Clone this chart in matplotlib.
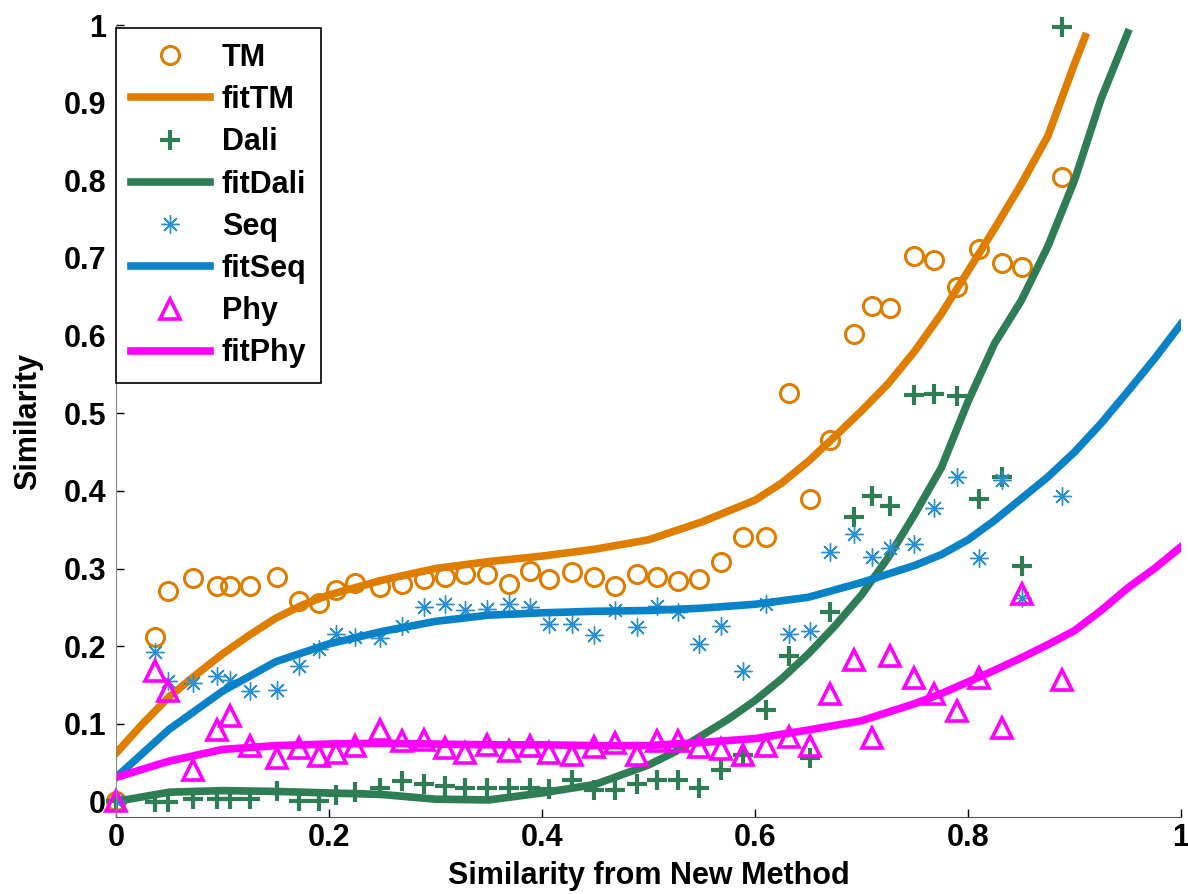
import numpy as np
import matplotlib.pyplot as plt
from matplotlib.ticker import FixedLocator, FuncFormatter

plt.rcParams['font.family'] = ['Liberation Sans', 'DejaVu Sans']
plt.rcParams['font.weight'] = 'bold'

# similarity from the new method (shared by all four comparisons)
x = [0.000, 0.037, 0.049, 0.072, 0.095, 0.107, 0.126, 0.151, 0.172, 0.191,
     0.207, 0.224, 0.248, 0.269, 0.289, 0.309, 0.328, 0.348, 0.369, 0.389,
     0.407, 0.428, 0.449, 0.469, 0.489, 0.508, 0.528, 0.547, 0.568, 0.589,
     0.610, 0.632, 0.652, 0.670, 0.693, 0.710, 0.727, 0.749, 0.768, 0.790,
     0.810, 0.832, 0.851, 0.888]

tm = [0.000, 0.212, 0.271, 0.288, 0.278, 0.278, 0.278, 0.289, 0.258, 0.256,
      0.272, 0.282, 0.276, 0.280, 0.286, 0.289, 0.293, 0.293, 0.280, 0.297,
      0.286, 0.295, 0.289, 0.278, 0.293, 0.289, 0.284, 0.286, 0.309, 0.341,
      0.341, 0.526, 0.389, 0.465, 0.602, 0.638, 0.636, 0.703, 0.698, 0.662,
      0.711, 0.693, 0.689, 0.804]

dali = [0.000, -0.001, -0.001, 0.003, 0.003, 0.003, 0.003, 0.014, 0.001, 0.001,
        0.009, 0.012, 0.018, 0.027, 0.022, 0.020, 0.018, 0.018, 0.018, 0.018,
        0.016, 0.028, 0.015, 0.015, 0.022, 0.028, 0.028, 0.018, 0.041, 0.060,
        0.118, 0.188, 0.056, 0.244, 0.367, 0.393, 0.381, 0.523, 0.525, 0.522,
        0.389, 0.418, 0.303, 0.997]

seq = [0.000, 0.193, 0.155, 0.152, 0.161, 0.156, 0.142, 0.143, 0.175, 0.197,
       0.216, 0.212, 0.210, 0.226, 0.250, 0.254, 0.246, 0.248, 0.254, 0.250,
       0.228, 0.229, 0.214, 0.246, 0.225, 0.252, 0.244, 0.203, 0.226, 0.168,
       0.254, 0.216, 0.220, 0.321, 0.344, 0.315, 0.327, 0.331, 0.378, 0.418,
       0.314, 0.414, 0.262, 0.394]

phy = [0.000, 0.168, 0.142, 0.040, 0.092, 0.110, 0.072, 0.056, 0.069, 0.059,
       0.063, 0.072, 0.092, 0.078, 0.079, 0.069, 0.062, 0.073, 0.065, 0.072,
       0.062, 0.060, 0.070, 0.075, 0.060, 0.078, 0.078, 0.070, 0.067, 0.060,
       0.071, 0.083, 0.072, 0.139, 0.182, 0.082, 0.187, 0.159, 0.139, 0.116,
       0.159, 0.095, 0.267, 0.156]

# fitted curves
fit_x = [0.00, 0.05, 0.10, 0.15, 0.20, 0.25, 0.30, 0.35, 0.40, 0.45, 0.50,
         0.55, 0.60, 0.65, 0.70, 0.75, 0.80, 0.85, 0.90, 0.95, 1.00]

fit_tm_x = [0.00, 0.025, 0.05, 0.075, 0.10, 0.125, 0.15, 0.175, 0.20, 0.25, 0.30,
            0.35, 0.40, 0.45, 0.50, 0.55, 0.60, 0.625, 0.65, 0.675, 0.70, 0.725,
            0.75, 0.775, 0.80, 0.825, 0.85, 0.875, 0.90, 0.91]
fit_tm = [0.062, 0.100, 0.135, 0.163, 0.190, 0.214, 0.236, 0.253, 0.266, 0.285, 0.300,
          0.309, 0.316, 0.325, 0.337, 0.360, 0.388, 0.410, 0.438, 0.470, 0.503, 0.538,
          0.580, 0.628, 0.683, 0.738, 0.795, 0.857, 0.950, 0.985]

fit_dali_x = [0.00, 0.05, 0.10, 0.15, 0.20, 0.25, 0.30, 0.35, 0.40, 0.45, 0.50,
              0.525, 0.55, 0.575, 0.60, 0.625, 0.65, 0.675, 0.70, 0.725, 0.75,
              0.775, 0.80, 0.825, 0.85, 0.875, 0.90, 0.925, 0.95]
fit_dali = [0.000, 0.012, 0.014, 0.013, 0.011, 0.009, 0.003, 0.002, 0.011, 0.022, 0.047,
            0.064, 0.085, 0.106, 0.130, 0.158, 0.190, 0.226, 0.266, 0.314, 0.370,
            0.430, 0.515, 0.590, 0.645, 0.715, 0.800, 0.905, 0.990]

fit_seq_x = fit_x[:16] + [0.775, 0.80, 0.825, 0.85, 0.875, 0.90, 0.925, 0.95, 0.975, 1.00]
fit_seq = [0.031, 0.093, 0.142, 0.180, 0.203, 0.219, 0.232, 0.240, 0.243, 0.245,
           0.246, 0.249, 0.254, 0.263, 0.282, 0.304, 0.318, 0.337, 0.362, 0.390,
           0.418, 0.450, 0.487, 0.528, 0.570, 0.615]

fit_phy_x = fit_x[:16] + [0.775, 0.80, 0.825, 0.85, 0.875, 0.90, 0.925, 0.95, 0.975, 1.00]
fit_phy = [0.031, 0.052, 0.067, 0.072, 0.074, 0.075, 0.074, 0.073, 0.073, 0.072,
           0.072, 0.076, 0.081, 0.092, 0.104, 0.126, 0.139, 0.154, 0.169, 0.185,
           0.202, 0.220, 0.246, 0.275, 0.300, 0.328]

c_tm = '#DE7D00'
c_dali = '#2E7D55'
c_seq = '#0A82C8'
c_phy = '#FF00FF'

fig = plt.figure(figsize=(11.88, 8.94), dpi=100)
ax = fig.add_axes([0.0976, 0.0861, 0.8965, 0.8859])

lw = 5.5
ax.plot(x, tm, 'o', ls='none', mfc='none', mec=c_tm, ms=13, mew=2.2, label='TM', clip_on=False)
ax.plot(fit_tm_x, fit_tm, '-', color=c_tm, lw=lw, label='fitTM')
ax.plot(x, dali, '+', ls='none', color=c_dali, ms=14, mew=3, label='Dali', clip_on=False)
ax.plot(fit_dali_x, fit_dali, '-', color=c_dali, lw=lw, label='fitDali')
ax.plot(x, seq, marker=(8, 2, 0), ls='none', color='#2A90D6', ms=13, mew=1.0, label='Seq')
ax.plot(fit_seq_x, fit_seq, '-', color=c_seq, lw=lw, label='fitSeq')
ax.plot(x, phy, '^', ls='none', mfc='none', mec=c_phy, ms=15, mew=2.6, label='Phy', clip_on=False)
ax.plot(fit_phy_x, fit_phy, '-', color=c_phy, lw=lw, label='fitPhy')

ax.set_xlim(0, 1)
ax.set_ylim(-0.02, 1)

fmt = FuncFormatter(lambda v, p: '%g' % round(v, 2))
ax.xaxis.set_major_locator(FixedLocator([0, 0.2, 0.4, 0.6, 0.8, 1]))
ax.yaxis.set_major_locator(FixedLocator(np.round(np.arange(0, 1.01, 0.1), 1)))
ax.xaxis.set_major_formatter(fmt)
ax.yaxis.set_major_formatter(fmt)
ax.tick_params(axis='both', direction='in', length=6, width=1, labelsize=22)
ax.tick_params(axis='x', pad=4)
ax.tick_params(axis='y', pad=7)

for side in ['top', 'right']:
    ax.spines[side].set_visible(False)
ax.spines['left'].set_color('#888888')
ax.spines['bottom'].set_color('#555555')

ax.set_xlabel('Similarity from New Method', fontsize=22, fontweight='bold', labelpad=6)
ax.set_ylabel('Similarity', fontsize=22, fontweight='bold', labelpad=15)

leg = ax.legend(loc='upper left', bbox_to_anchor=(0, 0.996), borderaxespad=0,
                fontsize=22, numpoints=1, handlelength=2.6, handletextpad=0.38,
                labelspacing=0.4, borderpad=0.48, fancybox=False, framealpha=1)
leg.get_frame().set_edgecolor('black')
leg.get_frame().set_linewidth(1.2)
for t in leg.get_texts():
    t.set_fontweight('bold')

fig.savefig('out.png', dpi=100)
